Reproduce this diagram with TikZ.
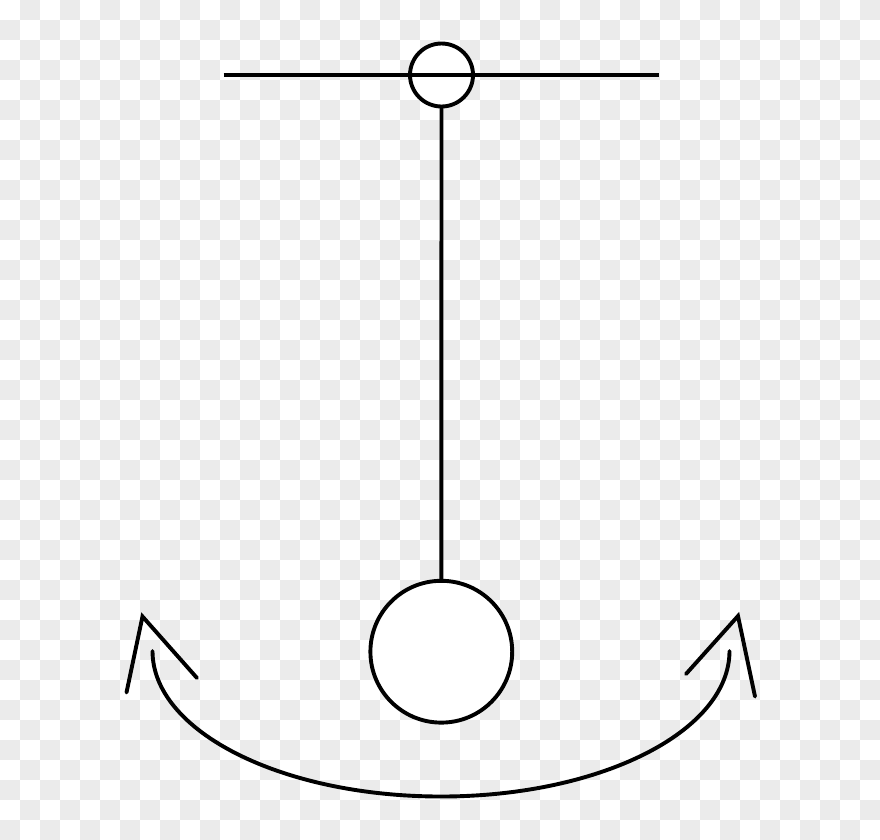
\documentclass[tikz,border=0pt]{standalone}
\begin{document}
\begin{tikzpicture}[x=1pt,y=-1pt,
  ink/.style={line width=3.9pt,draw=black},
  legline/.style={ink,line cap=round,line join=miter},
  bob/.style={circle,ink,fill=white,inner sep=0pt,outer sep=0pt}]
\definecolor{checkgray}{HTML}{EBEBEB}
\useasboundingbox (0,0) rectangle (880,839);
\fill[white] (0,0) rectangle (880,839);
\foreach \i in {0,...,43}{
  \foreach \j in {0,...,41}{
    \pgfmathtruncatemacro{\parity}{mod(\i+\j,2)}
    \ifnum\parity=1
      \fill[checkgray] (\i*20,\j*20) rectangle ++(20,20);
    \fi
  }
}
% pivot and bar
\node[bob,minimum size=63pt] (pivot) at (441.5,75) {};
\coordinate (barL) at (223.5,75.3);
\coordinate (barR) at (659,75.3);
\draw[ink] (barL) -- (barR);
% bob
\node[bob,minimum size=141.8pt] (ball) at (441.3,651.7) {};
\draw[ink] (pivot.south) -- (ball.north);
% swing arc
\coordinate (arcL) at (152.5,651);
\coordinate (arcR) at (729.5,651);
\draw[ink,line cap=round] (arcL) arc[start angle=180,end angle=0,x radius=288.5,y radius=145.5];
% left arrowhead
\coordinate (tipL) at (142.5,616.5);
\coordinate (tipLa) at (126.5,692.5);
\coordinate (tipLb) at (197,678);
\draw[legline] (tipLa) -- (tipL) -- (tipLb);
% right arrowhead
\coordinate (tipR) at (738,616);
\coordinate (tipRa) at (686,674);
\coordinate (tipRb) at (755,696.5);
\draw[legline] (tipRa) -- (tipR) -- (tipRb);
\end{tikzpicture}
\end{document}
